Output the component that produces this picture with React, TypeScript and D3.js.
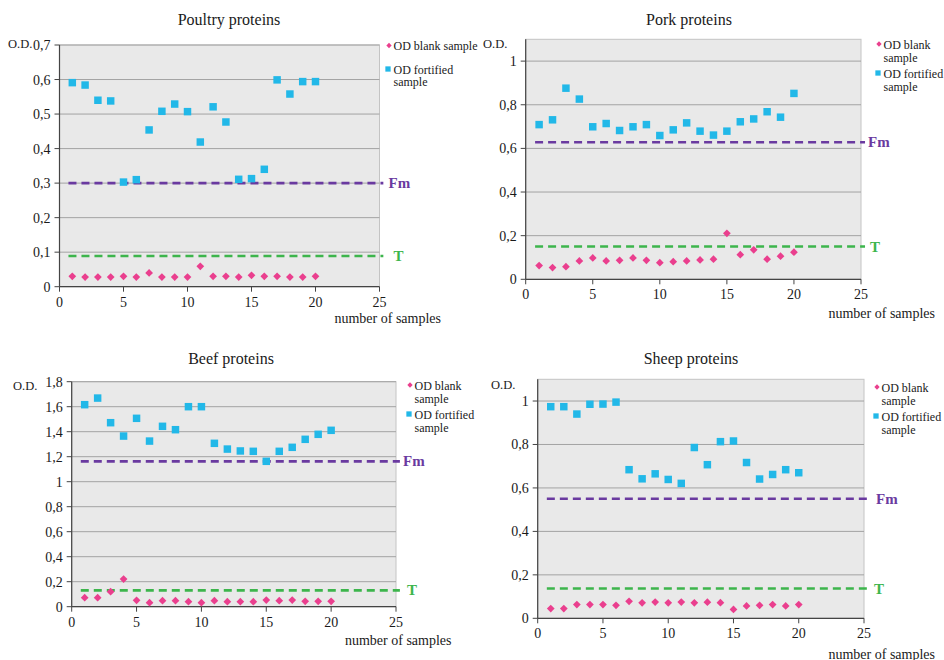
import React from "react";
import * as d3 from "d3";

// ---------- DATA ----------
const sampleNumbers = [1, 2, 3, 4, 5, 6, 7, 8, 9, 10, 11, 12, 13, 14, 15, 16, 17, 18, 19, 20];
const xTicks = [0, 5, 10, 15, 20, 25];

const poultryBlank = [0.030, 0.028, 0.028, 0.028, 0.030, 0.028, 0.040, 0.028, 0.028, 0.028, 0.059, 0.030, 0.030, 0.028, 0.033, 0.030, 0.030, 0.028, 0.028, 0.030];
const poultryFortified = [0.591, 0.584, 0.540, 0.538, 0.303, 0.310, 0.454, 0.508, 0.529, 0.507, 0.419, 0.521, 0.477, 0.311, 0.313, 0.340, 0.599, 0.558, 0.594, 0.594];
const poultryFm = 0.300;
const poultryT = 0.089;
const poultryYTicks = [0, 0.1, 0.2, 0.3, 0.4, 0.5, 0.6, 0.7];

const porkBlank = [0.063, 0.054, 0.058, 0.084, 0.098, 0.084, 0.087, 0.098, 0.087, 0.076, 0.081, 0.084, 0.089, 0.092, 0.211, 0.113, 0.135, 0.092, 0.106, 0.124];
const porkFortified = [0.709, 0.731, 0.876, 0.826, 0.699, 0.714, 0.682, 0.699, 0.709, 0.659, 0.685, 0.717, 0.679, 0.661, 0.679, 0.722, 0.735, 0.768, 0.743, 0.852];
const porkFm = 0.628;
const porkT = 0.150;
const porkYTicks = [0, 0.2, 0.4, 0.6, 0.8, 1];

const beefBlank = [0.072, 0.072, 0.120, 0.221, 0.051, 0.032, 0.048, 0.048, 0.040, 0.032, 0.048, 0.040, 0.040, 0.040, 0.053, 0.048, 0.053, 0.043, 0.043, 0.043];
const beefFortified = [1.616, 1.669, 1.472, 1.365, 1.507, 1.325, 1.443, 1.416, 1.600, 1.600, 1.307, 1.261, 1.246, 1.243, 1.163, 1.243, 1.275, 1.339, 1.379, 1.411];
const beefFm = 1.163;
const beefT = 0.131;
const beefYTicks = [0, 0.2, 0.4, 0.6, 0.8, 1, 1.2, 1.4, 1.6, 1.8];

const sheepBlank = [0.045, 0.045, 0.063, 0.063, 0.063, 0.060, 0.078, 0.071, 0.075, 0.071, 0.075, 0.071, 0.074, 0.072, 0.041, 0.057, 0.060, 0.063, 0.057, 0.063];
const sheepFortified = [0.974, 0.974, 0.940, 0.985, 0.986, 0.995, 0.684, 0.642, 0.665, 0.639, 0.621, 0.786, 0.707, 0.813, 0.816, 0.717, 0.641, 0.662, 0.684, 0.670];
const sheepFm = 0.550;
const sheepT = 0.137;
const sheepYTicks = [0, 0.2, 0.4, 0.6, 0.8, 1];

const refLineRange = [0.7, 25.3];

// ---------- LAYOUT / STYLE ----------
const FONT = '"Liberation Serif", "DejaVu Serif", serif';
const C_BLANK = "#ea3f8e";
const C_FORT = "#22b8e8";
const C_FM = "#6a3aa0";
const C_T = "#3db54c";

type Cfg = {
  title: string; blank: number[]; fortified: number[]; fm: number; t: number;
  yTicks: number[]; yMax: number;
  left: number; right: number; top: number; bottom: number;
  titleX: number; titleY: number; odX: number; odY: number;
  xlabX: number; xlabY: number; legX: number; legY: number; blankOneLine: boolean;
  fmDx: number; tDx: number;
};

const panels: Cfg[] = [
  { title: "Poultry proteins", blank: poultryBlank, fortified: poultryFortified, fm: poultryFm, t: poultryT,
    yTicks: poultryYTicks, yMax: 0.7, left: 59.5, right: 379.5, top: 45, bottom: 286.7,
    titleX: 229, titleY: 25, odX: 8, odY: 48, xlabX: 441, xlabY: 323, legX: 389, legY: 45.5, blankOneLine: true, fmDx: 9, tDx: 14 },
  { title: "Pork proteins", blank: porkBlank, fortified: porkFortified, fm: porkFm, t: porkT,
    yTicks: porkYTicks, yMax: 1.1, left: 525.7, right: 861, top: 39.3, bottom: 279.3,
    titleX: 689, titleY: 25, odX: 483, odY: 48, xlabX: 935, xlabY: 318, legX: 879, legY: 44, blankOneLine: false, fmDx: 7, tDx: 9 },
  { title: "Beef proteins", blank: beefBlank, fortified: beefFortified, fm: beefFm, t: beefT,
    yTicks: beefYTicks, yMax: 1.8, left: 71.7, right: 396, top: 381.7, bottom: 606.7,
    titleX: 231, titleY: 364, odX: 13, odY: 390, xlabX: 451.5, xlabY: 645, legX: 410, legY: 385, blankOneLine: false, fmDx: 7, tDx: 11 },
  { title: "Sheep proteins", blank: sheepBlank, fortified: sheepFortified, fm: sheepFm, t: sheepT,
    yTicks: sheepYTicks, yMax: 1.1, left: 537.7, right: 864, top: 379.3, bottom: 618.3,
    titleX: 691, titleY: 364, odX: 491, odY: 389, xlabX: 935, xlabY: 658.5, legX: 877, legY: 387, blankOneLine: false, fmDx: 12, tDx: 10 },
];

const fmtTick = (v: number) => d3.format("~g")(v).replace(".", ",");

function T(props: any) {
  const { style, ...rest } = props;
  return <text {...rest} style={{ fontFamily: FONT, ...(style || {}) }} />;
}

function Panel({ c }: { c: Cfg }) {
  const x = d3.scaleLinear().domain([0, 25]).range([c.left, c.right]);
  const y = d3.scaleLinear().domain([0, c.yMax]).range([c.bottom, c.top]);
  const diamond = d3.symbol().type(d3.symbolSquare).size(30)();
  const square = d3.symbol().type(d3.symbolSquare).size(56)();
  const legDiamond = d3.symbol().type(d3.symbolSquare).size(14)();
  const legSquare = d3.symbol().type(d3.symbolSquare).size(28)();
  const refLine = (v: number) => d3.line<number>().x((d) => x(d)).y(() => y(v))(refLineRange) || "";
  const L = c.legX;
  const lines = c.blankOneLine
    ? [{ t: "OD blank sample", dy: 0, mark: "b" }, { t: "OD fortified", dy: 23.5, mark: "f" }, { t: "sample", dy: 36, mark: "" }]
    : [{ t: "OD blank", dy: 0, mark: "b" }, { t: "sample", dy: 13.5, mark: "" }, { t: "OD fortified", dy: 29, mark: "f" }, { t: "sample", dy: 42.5, mark: "" }];
  return (
    <g fill="#1a1a1a">
      <T x={c.titleX} y={c.titleY} textAnchor="middle" fontSize={16}>{c.title}</T>
      <rect x={c.left} y={c.top} width={c.right - c.left} height={c.bottom - c.top} fill="#e9e9e9" stroke="#c4c4c4" strokeWidth={1} />
      {c.yTicks.filter((v) => v > 0).map((v) => (
        <line key={"g" + v} x1={c.left} x2={c.right} y1={y(v)} y2={y(v)} stroke="#a3a3a3" strokeWidth={1} />
      ))}
      <line x1={c.left} x2={c.left} y1={c.top} y2={c.bottom} stroke="#444" strokeWidth={1.2} />
      {c.yTicks.map((v) => (
        <g key={"yt" + v}>
          <line x1={c.left - 5} x2={c.left} y1={y(v)} y2={y(v)} stroke="#444" strokeWidth={1} />
          <T x={c.left - 9} y={y(v) + 5} textAnchor="end" fontSize={14}>{fmtTick(v)}</T>
        </g>
      ))}
      <line x1={c.left} x2={c.right} y1={c.bottom} y2={c.bottom} stroke="#444" strokeWidth={1.2} />
      {xTicks.map((v) => (
        <g key={"xt" + v}>
          <line x1={x(v)} x2={x(v)} y1={c.bottom} y2={c.bottom + 5} stroke="#444" strokeWidth={1} />
          <T x={x(v)} y={c.bottom + 20} textAnchor="middle" fontSize={14}>{fmtTick(v)}</T>
        </g>
      ))}
      <T x={c.odX} y={c.odY} fontSize={12.5}>O.D.</T>
      <T x={c.xlabX} y={c.xlabY} textAnchor="end" fontSize={14}>number of samples</T>
      <path d={refLine(c.fm)} stroke={C_FM} strokeWidth={2.6} strokeDasharray="8,5" fill="none" />
      <path d={refLine(c.t)} stroke={C_T} strokeWidth={2.6} strokeDasharray="8,5" fill="none" />
      <T x={c.right + c.fmDx} y={y(c.fm) + 5} fontSize={15} fontWeight="bold" fill={C_FM}>Fm</T>
      <T x={c.right + c.tDx} y={y(c.t) + 5} fontSize={15} fontWeight="bold" fill={C_T}>T</T>
      {sampleNumbers.map((n, i) => (
        <path key={"f" + n} d={square || ""} transform={`translate(${x(n)},${y(c.fortified[i])})`} fill={C_FORT} />
      ))}
      {sampleNumbers.map((n, i) => (
        <path key={"b" + n} d={diamond || ""} transform={`translate(${x(n)},${y(c.blank[i])}) rotate(45)`} fill={C_BLANK} />
      ))}
      {lines.map((l, i) => (
        <g key={"l" + i}>
          {l.mark === "b" && <path d={legDiamond || ""} transform={`translate(${L},${c.legY + l.dy}) rotate(45)`} fill={C_BLANK} />}
          {l.mark === "f" && <path d={legSquare || ""} transform={`translate(${L - 1},${c.legY + l.dy})`} fill={C_FORT} />}
          <T x={L + 4.5} y={c.legY + l.dy + 4.5} fontSize={12}>{l.t}</T>
        </g>
      ))}
    </g>
  );
}

export default function App() {
  return (
    <svg width={944} height={660} style={{ position: "absolute", left: 0, top: 0, background: "#fff" }}>
      <rect width={944} height={660} fill="#fff" />
      {panels.map((c) => <Panel key={c.title} c={c} />)}
    </svg>
  );
}
